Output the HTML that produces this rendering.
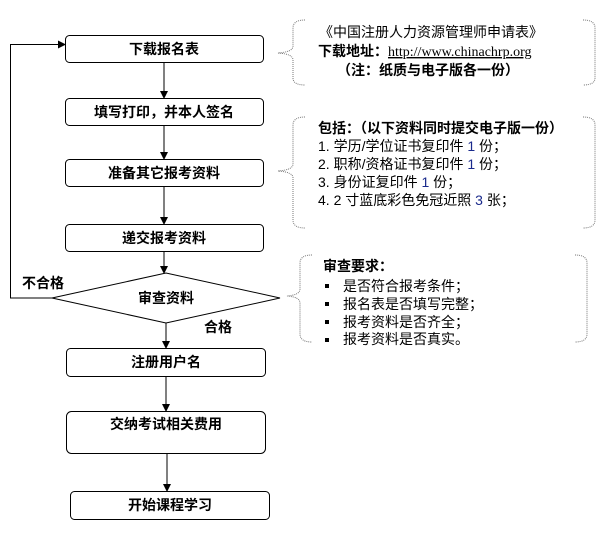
<!DOCTYPE html>
<html><head><meta charset="utf-8"><style>
body{margin:0;background:#fff;}
svg{display:block;}
text{font-family:"Liberation Sans","Noto Sans CJK SC",sans-serif;font-size:14px;fill:#000;}
.b{font-weight:bold;}
.d{fill:none;stroke:#777;stroke-width:1;stroke-dasharray:1,1;}
.bx{fill:#fff;stroke:#000;stroke-width:1;}
</style></head><body>
<svg width="603" height="538" viewBox="0 0 603 538" xmlns="http://www.w3.org/2000/svg">
<defs><marker id="a" markerWidth="8" markerHeight="8" refX="7" refY="4" orient="auto" markerUnits="userSpaceOnUse"><path d="M0,0 L8,4 L0,8z" fill="#000"/></marker></defs>
<rect class="bx" x="65.5" y="35.5" width="198" height="27" rx="4"/>
<rect class="bx" x="65.5" y="98.5" width="198" height="27" rx="4"/>
<rect class="bx" x="65.5" y="159.5" width="198" height="27" rx="4"/>
<rect class="bx" x="65.5" y="224.5" width="198" height="27" rx="4"/>
<polygon class="bx" points="52,298 166,273 280,298 166,323"/>
<rect class="bx" x="66.5" y="348.5" width="199" height="28" rx="4"/>
<rect class="bx" x="66.5" y="411.5" width="199" height="42" rx="5"/>
<rect class="bx" x="70.5" y="491.5" width="199" height="28" rx="4"/>
<g stroke="#000" stroke-width="1" fill="none">
<line x1="164" y1="63" x2="164" y2="98" marker-end="url(#a)"/>
<line x1="164" y1="126" x2="164" y2="159" marker-end="url(#a)"/>
<line x1="164" y1="187" x2="164" y2="224" marker-end="url(#a)"/>
<line x1="164" y1="252" x2="164" y2="273" marker-end="url(#a)"/>
<line x1="166" y1="323" x2="166" y2="348" marker-end="url(#a)"/>
<line x1="166" y1="377" x2="166" y2="411" marker-end="url(#a)"/>
<line x1="167" y1="454" x2="167" y2="491" marker-end="url(#a)"/>
<polyline points="52,298 10.5,298 10.5,44.5 65,44.5" marker-end="url(#a)"/>
</g>
<g text-anchor="middle">
<text x="164" y="54" class="b">下载报名表</text>
<text x="164" y="117" class="b">填写打印，并本人签名</text>
<text x="164" y="178" class="b">准备其它报考资料</text>
<text x="164" y="243" class="b">递交报考资料</text>
<text x="166" y="303" class="b">审查资料</text>
<text x="166" y="367" class="b">注册用户名</text>
<text x="166" y="429" class="b">交纳考试相关费用</text>
<text x="170" y="510" class="b">开始课程学习</text>
</g>
<text x="22" y="288" class="b">不合格</text>
<text x="204" y="332" class="b">合格</text>
<path class="d" d="M305,20 Q293,20 293,28 L293,46 Q293,52 278,53 Q293,54 293,60 L293,78 Q293,85 305,85"/>
<path class="d" d="M583,20 Q595,20 595,28 L595,78 Q595,85 583,85"/>
<path class="d" d="M305,117 Q293,117 293,125 L293,164 Q293,170 278,171 Q293,172 293,178 L293,220 Q293,228 305,228"/>
<path class="d" d="M583,117 Q595,117 595,125 L595,220 Q595,228 583,228"/>
<path class="d" d="M312,255 Q300,255 300,263 L300,289 Q300,295 287,296 Q300,297 300,303 L300,334 Q300,342 312,342"/>
<path class="d" d="M575,255 Q587,255 587,263 L587,334 Q587,342 575,342"/>
<text x="431" y="37" text-anchor="middle">《中国注册人力资源管理师申请表》</text>
<text x="318" y="56" class="b">下载地址：<tspan font-weight="normal" font-family="Liberation Serif,serif" text-decoration="underline">http://www.chinachrp.org</tspan></text>
<text x="428" y="75" text-anchor="middle" class="b">（注：纸质与电子版各一份）</text>
<text x="318" y="133" class="b">包括：（以下资料同时提交电子版一份）</text>
<text x="318" y="151">1.  学历/学位证书复印件 <tspan fill="#1a2a8c">1</tspan> 份；</text>
<text x="318" y="169">2.  职称/资格证书复印件 <tspan fill="#1a2a8c">1</tspan> 份；</text>
<text x="318" y="187">3.  身份证复印件 <tspan fill="#1a2a8c">1</tspan> 份；</text>
<text x="318" y="205">4.  2 寸蓝底彩色免冠近照 <tspan fill="#1a2a8c">3</tspan> 张；</text>
<text x="323" y="271" class="b">审查要求：</text>
<g fill="#000"><rect x="325" y="284" width="4" height="4"/><rect x="325" y="302" width="4" height="4"/><rect x="325" y="320" width="4" height="4"/><rect x="325" y="338" width="4" height="4"/></g>
<text x="343" y="291">是否符合报考条件；</text>
<text x="343" y="309">报名表是否填写完整；</text>
<text x="343" y="327">报考资料是否齐全；</text>
<text x="343" y="344">报考资料是否真实。</text>
</svg>
</body></html>
